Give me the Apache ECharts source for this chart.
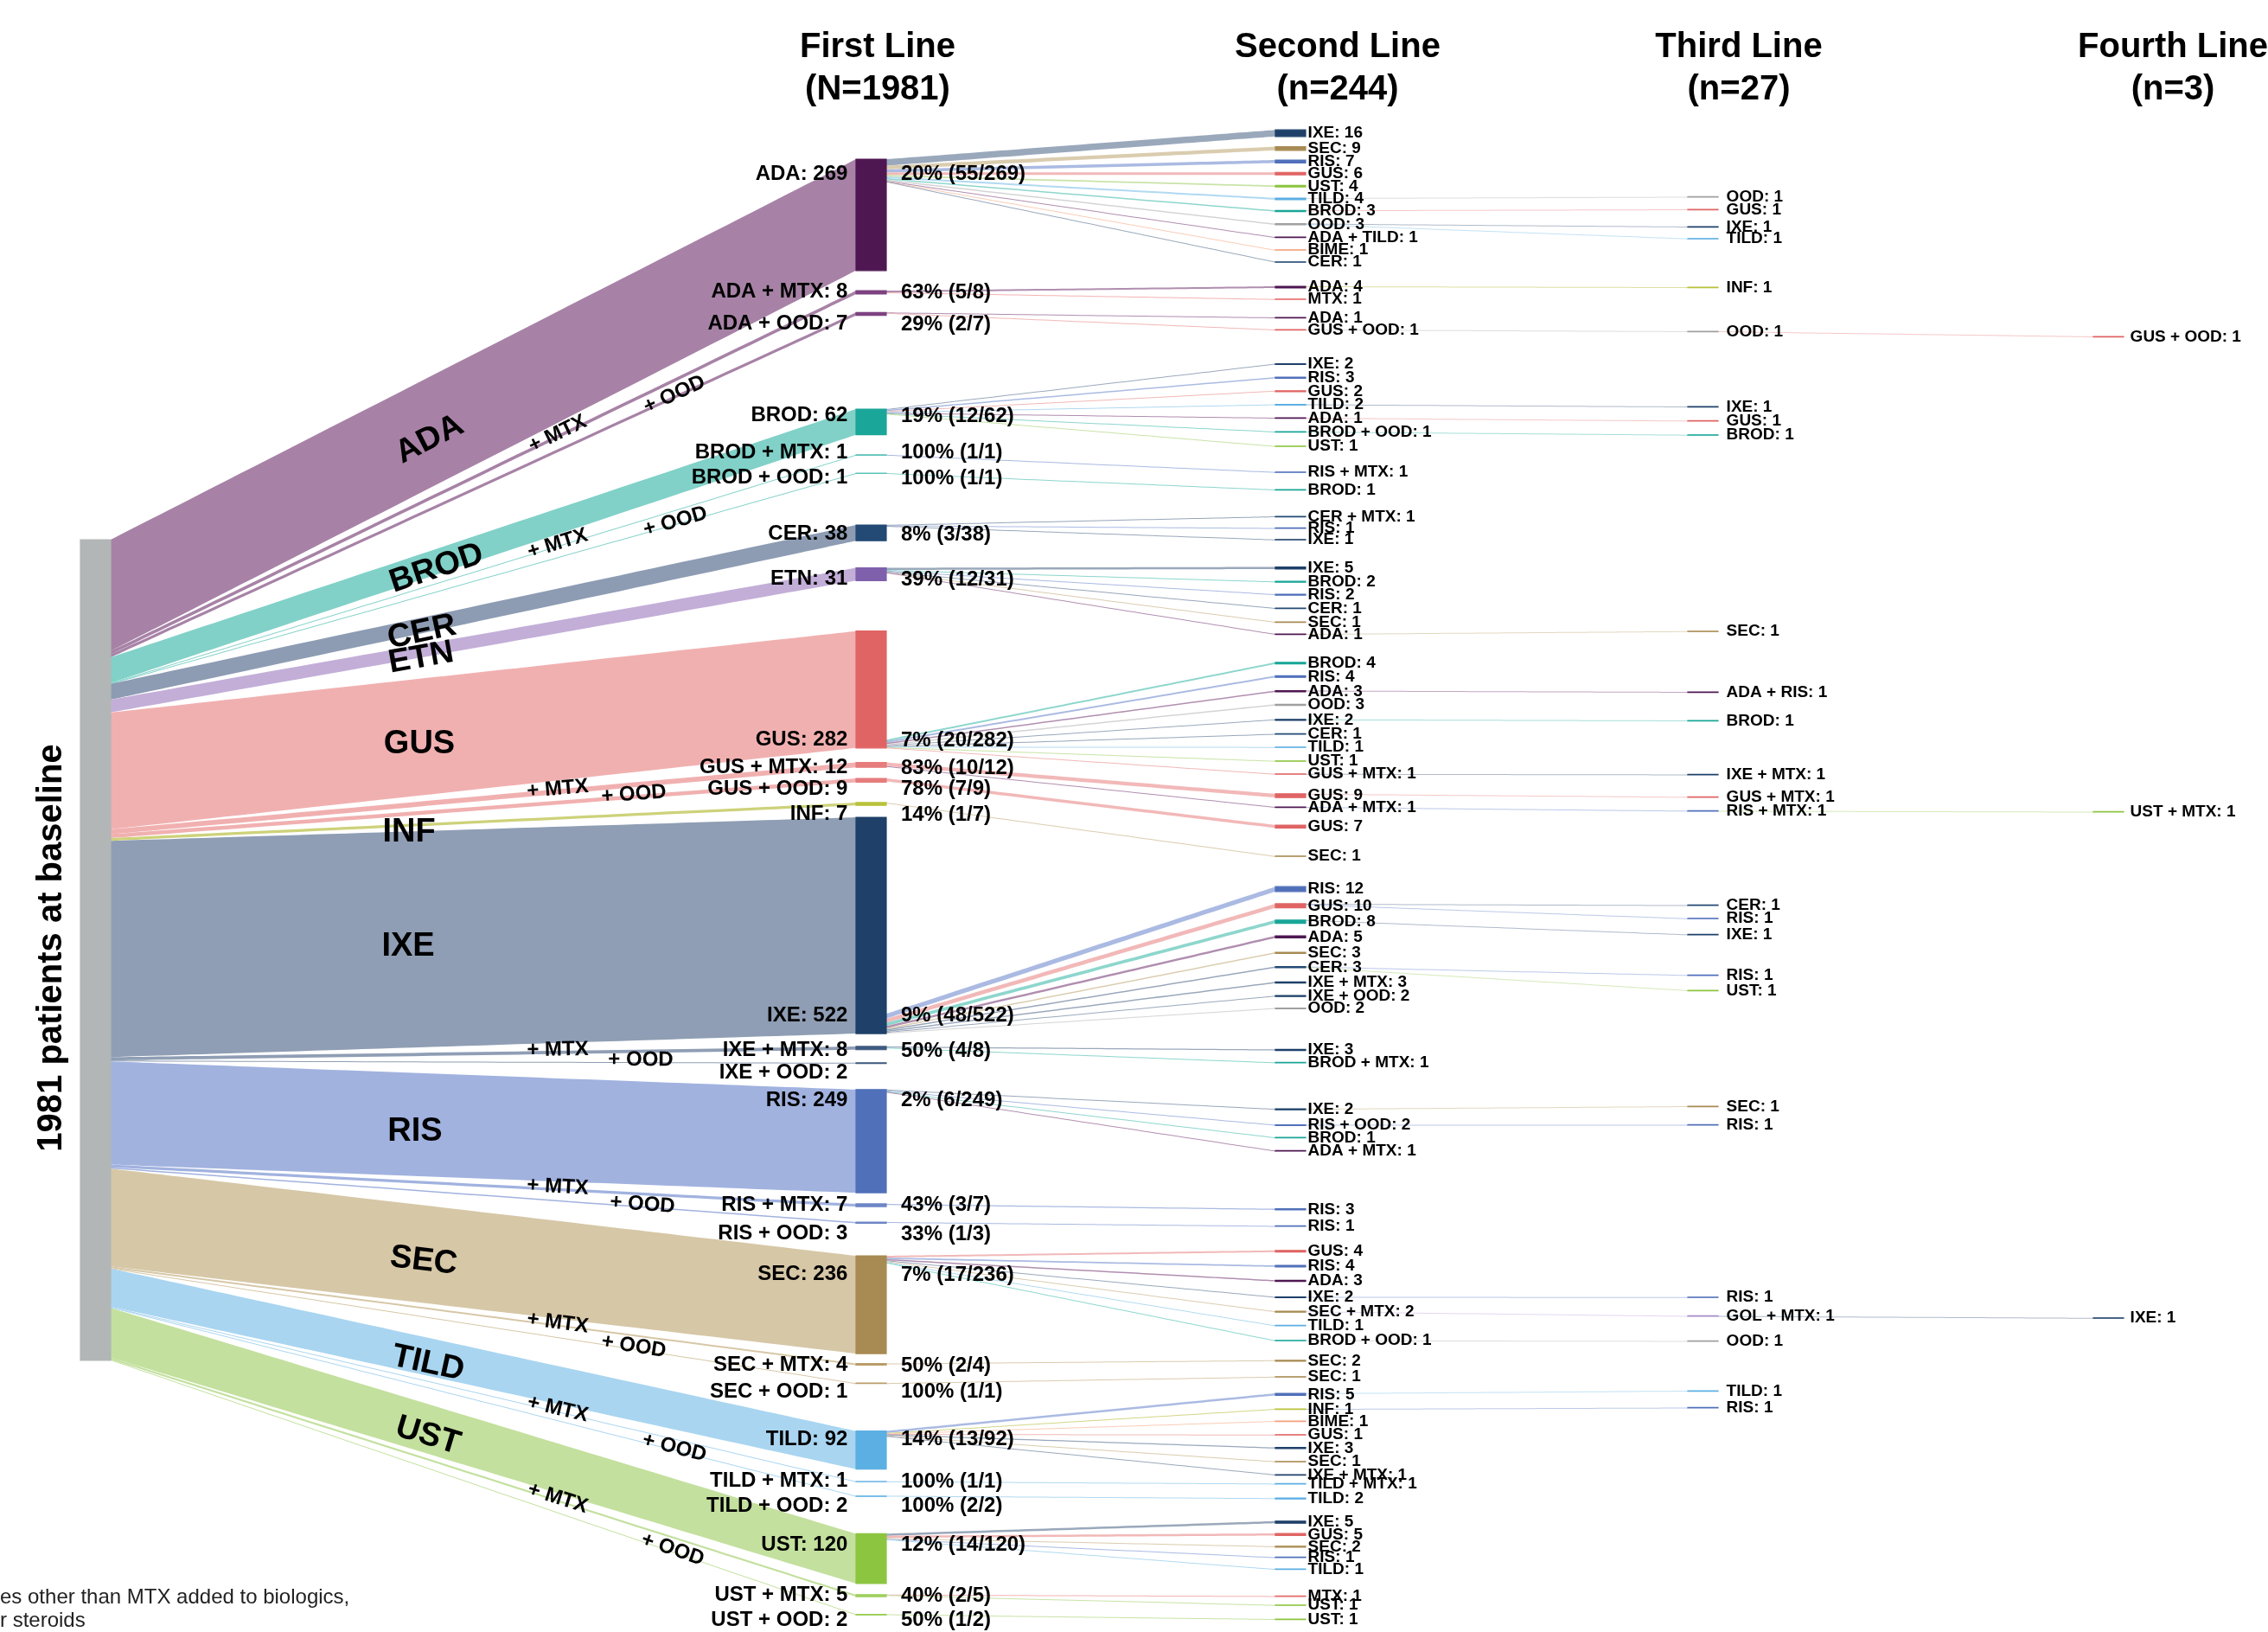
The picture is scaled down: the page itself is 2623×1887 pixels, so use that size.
<!DOCTYPE html>
<html>
<head>
<meta charset="utf-8">
<title>Biologic treatment lines</title>
<script src="https://cdn.jsdelivr.net/npm/echarts@6.0.0/dist/echarts.min.js"></script>
<style>
html, body { margin: 0; padding: 0; background: #ffffff; }
#chart { width: 2623px; height: 1887px; }
</style>
</head>
<body>
<div id="chart"></div>
<script>
// ---------------------------------------------------------------- data
const firstLine = ['ADA', 'ADA + MTX', 'ADA + OOD', 'BROD', 'BROD + MTX', 'BROD + OOD', 'CER', 'ETN',
  'GUS', 'GUS + MTX', 'GUS + OOD', 'INF', 'IXE', 'IXE + MTX', 'IXE + OOD', 'RIS', 'RIS + MTX', 'RIS + OOD',
  'SEC', 'SEC + MTX', 'SEC + OOD', 'TILD', 'TILD + MTX', 'TILD + OOD', 'UST', 'UST + MTX', 'UST + OOD'];
const firstLineN = [269, 8, 7, 62, 1, 1, 38, 31, 282, 12, 9, 7, 522, 8, 2, 249, 7, 3, 236, 4, 1, 92, 1, 2, 120, 5, 2];

// [first-line regimen, second-line regimen, patients]
const secondLine = [
  ['ADA', 'IXE', 16], ['ADA', 'SEC', 9], ['ADA', 'RIS', 7], ['ADA', 'GUS', 6], ['ADA', 'UST', 4],
  ['ADA', 'TILD', 4], ['ADA', 'BROD', 3], ['ADA', 'OOD', 3], ['ADA', 'ADA + TILD', 1], ['ADA', 'BIME', 1],
  ['ADA', 'CER', 1],
  ['ADA + MTX', 'ADA', 4], ['ADA + MTX', 'MTX', 1],
  ['ADA + OOD', 'ADA', 1], ['ADA + OOD', 'GUS + OOD', 1],
  ['BROD', 'IXE', 2], ['BROD', 'RIS', 3], ['BROD', 'GUS', 2], ['BROD', 'TILD', 2], ['BROD', 'ADA', 1],
  ['BROD', 'BROD + OOD', 1], ['BROD', 'UST', 1],
  ['BROD + MTX', 'RIS + MTX', 1],
  ['BROD + OOD', 'BROD', 1],
  ['CER', 'CER + MTX', 1], ['CER', 'RIS', 1], ['CER', 'IXE', 1],
  ['ETN', 'IXE', 5], ['ETN', 'BROD', 2], ['ETN', 'RIS', 2], ['ETN', 'CER', 1], ['ETN', 'SEC', 1], ['ETN', 'ADA', 1],
  ['GUS', 'BROD', 4], ['GUS', 'RIS', 4], ['GUS', 'ADA', 3], ['GUS', 'OOD', 3], ['GUS', 'IXE', 2],
  ['GUS', 'CER', 1], ['GUS', 'TILD', 1], ['GUS', 'UST', 1], ['GUS', 'GUS + MTX', 1],
  ['GUS + MTX', 'GUS', 9], ['GUS + MTX', 'ADA + MTX', 1],
  ['GUS + OOD', 'GUS', 7],
  ['INF', 'SEC', 1],
  ['IXE', 'RIS', 12], ['IXE', 'GUS', 10], ['IXE', 'BROD', 8], ['IXE', 'ADA', 5], ['IXE', 'SEC', 3],
  ['IXE', 'CER', 3], ['IXE', 'IXE + MTX', 3], ['IXE', 'IXE + OOD', 2], ['IXE', 'OOD', 2],
  ['IXE + MTX', 'IXE', 3], ['IXE + MTX', 'BROD + MTX', 1],
  ['RIS', 'IXE', 2], ['RIS', 'RIS + OOD', 2], ['RIS', 'BROD', 1], ['RIS', 'ADA + MTX', 1],
  ['RIS + MTX', 'RIS', 3],
  ['RIS + OOD', 'RIS', 1],
  ['SEC', 'GUS', 4], ['SEC', 'RIS', 4], ['SEC', 'ADA', 3], ['SEC', 'IXE', 2], ['SEC', 'SEC + MTX', 2],
  ['SEC', 'TILD', 1], ['SEC', 'BROD + OOD', 1],
  ['SEC + MTX', 'SEC', 2],
  ['SEC + OOD', 'SEC', 1],
  ['TILD', 'RIS', 5], ['TILD', 'INF', 1], ['TILD', 'BIME', 1], ['TILD', 'GUS', 1], ['TILD', 'IXE', 3],
  ['TILD', 'SEC', 1], ['TILD', 'IXE + MTX', 1],
  ['TILD + MTX', 'TILD + MTX', 1],
  ['TILD + OOD', 'TILD', 2],
  ['UST', 'IXE', 5], ['UST', 'GUS', 5], ['UST', 'SEC', 2], ['UST', 'RIS', 1], ['UST', 'TILD', 1],
  ['UST + MTX', 'MTX', 1], ['UST + MTX', 'UST', 1],
  ['UST + OOD', 'UST', 1]
];

// [first, second, third-line regimen, patients]
const thirdLine = [
  ['ADA', 'TILD', 'OOD', 1], ['ADA', 'BROD', 'GUS', 1], ['ADA', 'OOD', 'IXE', 1], ['ADA', 'OOD', 'TILD', 1],
  ['ADA + MTX', 'ADA', 'INF', 1],
  ['ADA + OOD', 'GUS + OOD', 'OOD', 1],
  ['BROD', 'TILD', 'IXE', 1], ['BROD', 'ADA', 'GUS', 1], ['BROD', 'BROD + OOD', 'BROD', 1],
  ['ETN', 'ADA', 'SEC', 1],
  ['GUS', 'ADA', 'ADA + RIS', 1], ['GUS', 'IXE', 'BROD', 1], ['GUS', 'GUS + MTX', 'IXE + MTX', 1],
  ['GUS + MTX', 'GUS', 'GUS + MTX', 1], ['GUS + MTX', 'ADA + MTX', 'RIS + MTX', 1],
  ['IXE', 'GUS', 'CER', 1], ['IXE', 'GUS', 'RIS', 1], ['IXE', 'BROD', 'IXE', 1],
  ['IXE', 'CER', 'RIS', 1], ['IXE', 'CER', 'UST', 1],
  ['RIS', 'IXE', 'SEC', 1], ['RIS', 'RIS + OOD', 'RIS', 1],
  ['SEC', 'IXE', 'RIS', 1], ['SEC', 'SEC + MTX', 'GOL + MTX', 1], ['SEC', 'BROD + OOD', 'OOD', 1],
  ['TILD', 'RIS', 'TILD', 1], ['TILD', 'INF', 'RIS', 1]
];

// [first, second, third, fourth-line regimen, patients]
const fourthLine = [
  ['ADA + OOD', 'GUS + OOD', 'OOD', 'GUS + OOD', 1],
  ['GUS + MTX', 'ADA + MTX', 'RIS + MTX', 'UST + MTX', 1],
  ['SEC', 'SEC + MTX', 'GOL + MTX', 'IXE', 1]
];

// ------------------------------------------------------ vertical placement (px)
const firstLineTop = [184, 336.1, 361.3, 473, 525.8, 547, 607, 656.5, 729.7, 881.5, 900.1, 927.9, 945,
  1209.9, 1228.8, 1259.8, 1391.9, 1413, 1452, 1576.6, 1599.2, 1654.6, 1712.8, 1729.5, 1773.4, 1843.8, 1866.5];
const firstLineLabelY = [201.7, 338, 375, 481.4, 523.6, 553.4, 618, 670, 856.3, 887.9, 912.5, 942.3, 1174.6,
  1214.9, 1240.5, 1272.8, 1393.6, 1427, 1474, 1579, 1609.5, 1664.6, 1713, 1741.6, 1786.8, 1845.3, 1873.8];
const secondLineY = [154, 171.7, 186.7, 200.7, 215.3, 230, 244, 259.3, 274.3, 289, 303,
  332, 346, 367.3, 381.3,
  421, 436.7, 452.3, 468, 483.3, 499.3, 516, 546, 566.3,
  597.3, 610.7, 624,
  656.7, 672.7, 687.7, 703.3, 719.3, 733.3,
  766.7, 782.3, 799.3, 815, 832.3, 848.7, 864, 880, 895,
  920, 933.3, 955.7, 990,
  1028, 1047.3, 1065.7, 1083.3, 1101.7, 1118.3, 1136, 1151.7, 1166,
  1214, 1228.7,
  1282.7, 1301, 1315.3, 1330.7, 1398.3, 1417.7,
  1446.7, 1464, 1481, 1500, 1516.7, 1532.7, 1550, 1573.3, 1592,
  1612.3, 1629.3, 1643.3, 1659, 1674.3, 1690, 1705.3, 1715.7, 1732.7,
  1760, 1774.3, 1788.3, 1800.7, 1814.3, 1845.7, 1856, 1872.3];
const thirdLineY = [227.7, 242.3, 262.3, 276, 332.3, 383.3, 470.3, 486.7, 503, 730, 800.3, 833.3, 895.7,
  921.7, 937.7, 1046.7, 1062, 1080.7, 1127.7, 1145.3, 1279.3, 1300.7, 1500, 1521.7, 1550.7, 1608.3, 1627.7];
const fourthLineY = [389.3, 938.7, 1524];

// band label anchors along the baseline -> first-line bands (x in px)
const drugLabelX = { ADA: 497, BROD: 505, CER: 488, ETN: 487, GUS: 485, INF: 473, IXE: 472, RIS: 480, SEC: 490, TILD: 495, UST: 495 };
const mtxLabelX = 645;
const oodLabelX = { ADA: 780, BROD: 781, GUS: 733, IXE: 741, RIS: 743, SEC: 733, TILD: 780, UST: 778 };

// ------------------------------------------------------------- colours
const drugColor = {
  ADA: '#4e1752', BROD: '#1aa698', CER: '#234a74', ETN: '#7e60ad', GUS: '#e06464', INF: '#b9c23a',
  IXE: '#1e4069', RIS: '#5170ba', SEC: '#a88b53', TILD: '#5cafe3', UST: '#8cc540', MTX: '#e46a6a',
  OOD: '#a0a0a0', BIME: '#f4a07e', GOL: '#a58bc9'
};
// first-line combination bars are drawn a shade lighter than the plain drug
const comboColor = { ADA: '#7d4281', BROD: '#5cc3b8', GUS: '#e67c7c', IXE: '#3f5a80', RIS: '#6d86c6', SEC: '#b99d6a', TILD: '#7cbfe9', UST: '#9fd05e' };
const drugTint = {
  ADA: '#a782a6', BROD: '#81d1c8', CER: '#8d9cb3', ETN: '#c3aed8', GUS: '#f1b0b0', INF: '#cdd27a',
  IXE: '#8f9eb4', RIS: '#a1b2df', SEC: '#d6c7a6', TILD: '#a9d5f0', UST: '#c3e09e', MTX: '#f3aaaa',
  OOD: '#cfcfcf', BIME: '#f9c6ae', GOL: '#d5c7e8'
};

// ------------------------------------------------------------- geometry
const CANVAS_W = 2623;
const SERIES_TOP = 624, SERIES_H = 949;
const COL_X = [93, 990, 1475, 1952, 2421];
const NODE_W = 35;
const FONT = '"Liberation Sans", Arial, Helvetica, sans-serif';

const sum = a => a.reduce((s, v) => s + v, 0);
const totalN = sum(firstLineN);
const ky = SERIES_H / totalN;            // px per patient, as the sankey computes it
const drugOf = r => r.split(' + ')[0];
const localX = d => COL_X[d] / CANVAS_W;
const localY = y => (y - SERIES_TOP) / SERIES_H;
const solid = c => ({ color: c, borderColor: c, borderWidth: 1.2 });

const nodes = [];
const links = [];

nodes.push({ name: 'base', depth: 0, localX: localX(0), localY: 0, itemStyle: solid('#b2b6b6'), label: { show: false } });

firstLine.forEach((reg, i) => {
  const id = 'L1|' + reg;
  const isCombo = reg.indexOf(' + ') > 0;
  nodes.push({
    name: id, depth: 1, localX: localX(1), localY: localY(firstLineTop[i]),
    itemStyle: solid(isCombo ? comboColor[drugOf(reg)] : drugColor[reg]),
    label: {
      position: [-9, firstLineLabelY[i] - firstLineTop[i]], align: 'right', verticalAlign: 'middle',
      fontSize: 24, formatter: reg + ': ' + firstLineN[i]
    }
  });
  links.push({ source: 'base', target: id, value: firstLineN[i], lineStyle: { color: drugTint[drugOf(reg)], opacity: 1 } });
});

// patients switching from each first-line regimen
const switchedFrom = {};
secondLine.forEach(([from, , n]) => { switchedFrom[from] = (switchedFrom[from] || 0) + n; });

// for these regimens the switching patients leave from the bottom of the bar,
// so the patients who stay on the regimen are routed (invisibly) first
const exitAtBottom = ['GUS', 'IXE'];
const restAdded = {};

secondLine.forEach(([from, reg, n], j) => {
  if (exitAtBottom.includes(from) && !restAdded[from]) {
    restAdded[from] = true;
    const restId = 'L2|' + from + '|rest';
    nodes.push({ name: restId, depth: 2, localX: localX(2), localY: 0, itemStyle: { opacity: 0 }, label: { show: false } });
    links.push({
      source: 'L1|' + from, target: restId,
      value: firstLineN[firstLine.indexOf(from)] - switchedFrom[from], lineStyle: { opacity: 0 }
    });
  }
  const id = 'L2|' + from + '|' + reg;
  nodes.push({
    name: id, depth: 2, localX: localX(2), localY: localY(secondLineY[j] - n * ky / 2),
    itemStyle: solid(drugColor[drugOf(reg)]), label: { formatter: reg + ': ' + n }
  });
  links.push({ source: 'L1|' + from, target: id, value: n, lineStyle: { color: drugTint[drugOf(reg)], opacity: 0.9 } });
});

thirdLine.forEach(([a, b, reg, n], k) => {
  const id = 'L3|' + a + '|' + b + '|' + reg;
  nodes.push({
    name: id, depth: 3, localX: localX(3), localY: localY(thirdLineY[k] - n * ky / 2),
    itemStyle: solid(drugColor[drugOf(reg)]), label: { formatter: reg + ': ' + n, distance: 9 }
  });
  links.push({ source: 'L2|' + a + '|' + b, target: id, value: n, lineStyle: { color: drugTint[drugOf(reg)], opacity: 0.7 } });
});

fourthLine.forEach(([a, b, c, reg, n], k) => {
  const id = 'L4|' + a + '|' + b + '|' + c + '|' + reg;
  nodes.push({
    name: id, depth: 4, localX: localX(4), localY: localY(fourthLineY[k] - n * ky / 2),
    itemStyle: solid(drugColor[drugOf(reg)]), label: { formatter: reg + ': ' + n, distance: 7 }
  });
  links.push({ source: 'L3|' + a + '|' + b + '|' + c, target: id, value: n, lineStyle: { color: drugTint[drugOf(reg)], opacity: 0.7 } });
});

// ------------------------------------------------------------- text overlays
const graphics = [];
function text(str, x, y, size, opt) {
  opt = opt || {};
  const align = opt.align || 'center';
  graphics.push({
    type: 'text', x: x, y: y, rotation: opt.rotation || 0, z: 100, silent: true,
    style: {
      text: str, fill: opt.fill || '#000',
      font: (opt.weight || 'bold') + ' ' + size + 'px ' + FONT,
      textAlign: align, align: align, textVerticalAlign: 'middle', verticalAlign: 'middle'
    }
  });
}

// column headers
const n2 = sum(secondLine.map(r => r[2]));
const n3 = sum(thirdLine.map(r => r[3]));
const n4 = sum(fourthLine.map(r => r[4]));
[['First Line', '(N=' + totalN + ')', 1015], ['Second Line', '(n=' + n2 + ')', 1547],
 ['Third Line', '(n=' + n3 + ')', 2011], ['Fourth Line', '(n=' + n4 + ')', 2513]].forEach(([t1, t2, x]) => {
  text(t1, x, 55, 40);
  text(t2, x, 104, 40);
});

text(totalN + ' patients at baseline', 60, 1096, 40, { rotation: Math.PI / 2 });

// share of each first-line group that moved on to a second line
firstLine.forEach((reg, i) => {
  const s = switchedFrom[reg] || 0;
  if (!s) return;
  const pct = Math.round(100 * s / firstLineN[i]);
  text(pct + '% (' + s + '/' + firstLineN[i] + ')', 1042, firstLineLabelY[i], 24, { align: 'left' });
});

// band labels drawn along the baseline -> first-line bands
const baseOffset = [];
firstLineN.reduce((acc, n) => { baseOffset.push(acc); return acc + n; }, 0);
function bandAt(i, x) {
  const x0 = COL_X[0] + NODE_W, x1 = COL_X[1];
  const y0 = SERIES_TOP + (baseOffset[i] + firstLineN[i] / 2) * ky;
  const y1 = firstLineTop[i] + firstLineN[i] * ky / 2;
  const t = (x - x0) / (x1 - x0);
  return { y: y0 + (y1 - y0) * t, rotation: Math.atan2(y0 - y1, x1 - x0) };
}
firstLine.forEach((reg, i) => {
  const parts = reg.split(' + ');
  if (parts.length === 1) {
    const x = drugLabelX[reg];
    const b = bandAt(i, x);
    // nearly level bands keep their name horizontal
    const rot = Math.abs(b.rotation) < 0.112 ? 0 : b.rotation;
    text(reg, x, b.y + 8, 38, { rotation: rot });
  } else {
    const x = parts[1] === 'MTX' ? mtxLabelX : oodLabelX[parts[0]];
    const b = bandAt(i, x);
    text('+ ' + parts[1], x, b.y - 3, 24, { rotation: b.rotation });
  }
});

// footnote
text('es other than MTX added to biologics,', 0, 1847, 24, { align: 'left', weight: 'normal', fill: '#222' });
text('r steroids', 0, 1874, 24, { align: 'left', weight: 'normal', fill: '#222' });

// ------------------------------------------------------------- chart
const chart = echarts.init(document.getElementById('chart'), null, { renderer: 'canvas' });
chart.setOption({
  animation: false,
  backgroundColor: '#ffffff',
  series: [{
    type: 'sankey',
    left: 0, top: SERIES_TOP, width: CANVAS_W, height: SERIES_H,
    nodeWidth: NODE_W, nodeGap: 0, layoutIterations: 0, nodeAlign: 'left',
    draggable: false, silent: true,
    emphasis: { disabled: true },
    label: {
      show: true, position: 'right', distance: 2, color: '#000',
      fontFamily: FONT, fontWeight: 'bold', fontSize: 19
    },
    lineStyle: { curveness: 0, opacity: 1 },
    data: nodes,
    links: links
  }],
  graphic: graphics
});
</script>
</body>
</html>
